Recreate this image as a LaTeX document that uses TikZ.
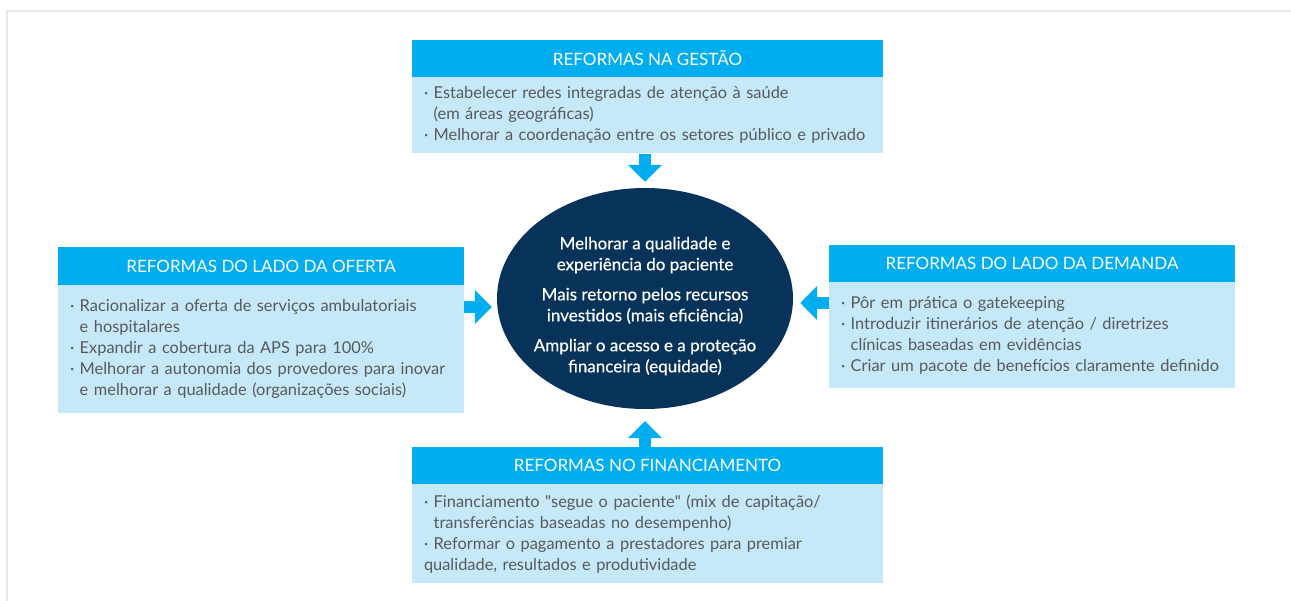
\documentclass[tikz,border=0pt]{standalone}
\usepackage{fontspec}
\setmainfont{Lato}
\usepackage{xcolor}
\usepackage{tikz}
\usetikzlibrary{arrows.meta,shapes,calc,positioning}

\definecolor{ciano}{HTML}{00AEEF}
\definecolor{azulclaro}{HTML}{C6E9F9}
\definecolor{marinho}{HTML}{07325A}
\definecolor{cinzatexto}{HTML}{58595B}
\definecolor{moldura}{HTML}{E8E8E8}
\newcommand{\recuo}{\phantom{·\ }}

\begin{document}
\begin{tikzpicture}[x=1pt,y=-1pt,
        titulo/.style={fill=ciano,text=white,minimum height=37pt,inner sep=0pt,font=\fontsize{17}{19}\selectfont},
        itens/.style={fill=azulclaro,text=cinzatexto,anchor=north west,inner xsep=12pt,inner ysep=0pt,align=left,font=\fontsize{16.4}{21}\selectfont},
        seta/.style={ciano,line width=12.5pt,-{Triangle[length=17pt,width=33pt]}}]
        \useasboundingbox (0,0) rectangle (1291,601);
        \draw [moldura,line width=2pt] (7,601) -- (7,11) -- (1291,11);
        % reformas na gestao
        \node [titulo,minimum width=471pt] (gestao) at (647.5,58.5) {REFORMAS NA GESTÃO};
        \node [itens,text width=447pt,minimum height=76pt] (gestao-itens) at (gestao.south west)
            {·\ Estabelecer redes integradas de atenção à saúde\\
             \recuo(em áreas geográficas)\\
             ·\ Melhorar a coordenação entre os setores público e privado};
        % reformas do lado da oferta
        \node [titulo,minimum width=406pt,minimum height=38pt] (oferta) at (261,266) {REFORMAS DO LADO DA OFERTA};
        \node [itens,text width=382pt,minimum height=128pt] (oferta-itens) at (oferta.south west)
            {·\ Racionalizar a oferta de serviços ambulatoriais\\
             \recuo e hospitalares\\
             ·\ Expandir a cobertura da APS para 100\%\\
             ·\ Melhorar a autonomia dos provedores para inovar\\
             \recuo e melhorar a qualidade (organizações sociais)};
        % reformas do lado da demanda
        \node [titulo,minimum width=406pt] (demanda) at (1032,263.5) {REFORMAS DO LADO DA DEMANDA};
        \node [itens,text width=382pt,minimum height=106pt] (demanda-itens) at (demanda.south west)
            {·\ Pôr em prática o gatekeeping\\
             ·\ Introduzir itinerários de atenção / diretrizes\\
             \recuo clínicas baseadas em evidências\\
             ·\ Criar um pacote de benefícios claramente definido};
        % reformas no financiamento
        \node [titulo,minimum width=471pt] (financiamento) at (647.5,465.5) {REFORMAS NO FINANCIAMENTO};
        \node [itens,text width=447pt,minimum height=99pt] (financiamento-itens) at (financiamento.south west)
            {·\ Financiamento \textquotedbl segue o paciente\textquotedbl\ (mix de capitação/\\
             \recuo transferências baseadas no desempenho)\\
             ·\ Reformar o pagamento a prestadores para premiar\\
             qualidade, resultados e produtividade};
        % objetivos
        \node [ellipse,fill=marinho,minimum width=296pt,minimum height=221pt,inner sep=0pt] (metas) at (645,298.5) {};
        \node [text=white,align=center,font=\fontsize{17}{21}\selectfont\addfontfeature{FakeBold=0.4}]
            (metas-texto) at ([yshift=-7.5pt]metas.center)
            {Melhorar a qualidade e\\experiência do paciente\\[9pt]
             Mais retorno pelos recursos\\investidos (mais eficiência)\\[9pt]
             Ampliar o acesso e a proteção\\financeira (equidade)};
        % setas
        \draw [seta,shorten >=6pt] (gestao-itens.south -| metas.north) -- (metas.north);
        \draw [seta,shorten >=5pt] (oferta-itens.east |- 0,307) -- (metas.west |- 0,307);
        \draw [seta,shorten >=7pt] (demanda-itens.west |- 0,303) -- (metas.east |- 0,303);
        \draw [seta,shorten >=12pt] (financiamento.north -| metas.south) -- (metas.south);
    \end{tikzpicture}
\end{document}
